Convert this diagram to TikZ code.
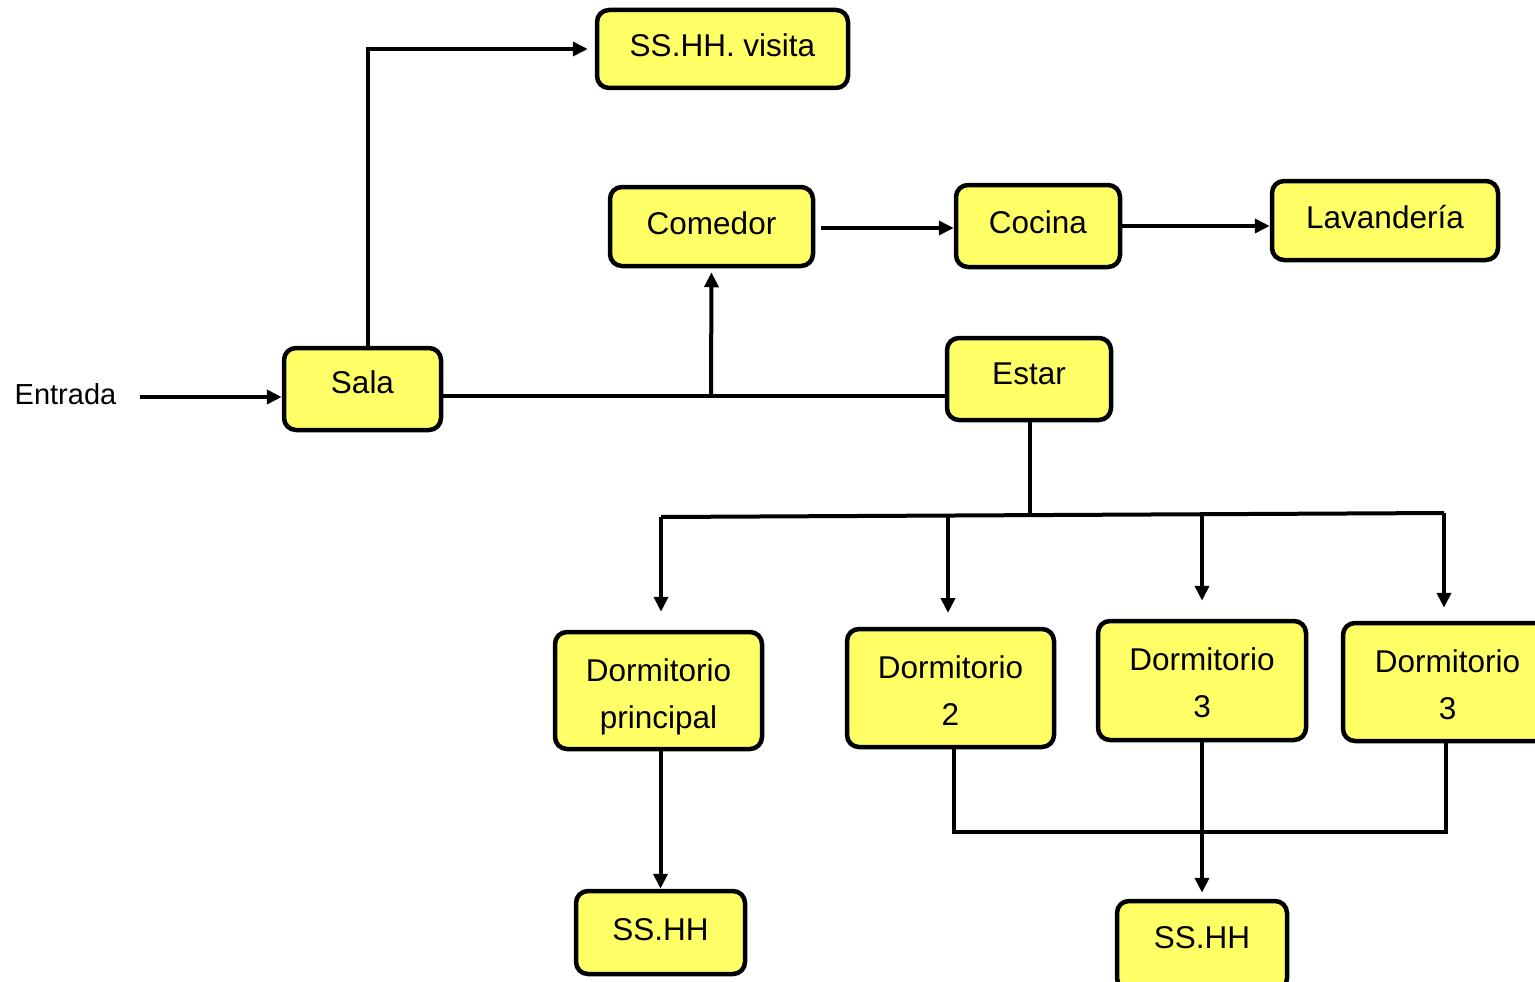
\documentclass[tikz,border=0pt]{standalone}
\usepackage{fontspec}
\setmainfont{Liberation Sans}
\usetikzlibrary{arrows.meta,shadows}
\definecolor{boxyellow}{RGB}{255,255,102}
\tikzset{
  box/.style={draw=black, line width=4.5pt, rounded corners=12pt, fill=boxyellow,
    align=center, inner sep=0pt, font=\fontsize{31.5}{47}\selectfont,
    drop shadow={shadow xshift=1.5pt, shadow yshift=-1.5pt, opacity=0.25}},
  one/.style={text height=23pt, text depth=8pt},
  conn/.style={draw=black, line width=4pt},
  arr/.style={conn, -{Triangle[length=15pt,width=14pt]}},
}
\begin{document}
\begin{tikzpicture}[x=1pt,y=-1pt]
\useasboundingbox (0,0) rectangle (1535,982);
\fill[white] (0,0) rectangle (1535,982);
% nodes
\node[box, one, minimum width=251, minimum height=78] (visita) at (722.5,49) {SS.HH. visita};
\node[box, one, minimum width=203, minimum height=79] (comedor) at (711.5,226.5) {Comedor};
\node[box, one, minimum width=164, minimum height=82] (cocina) at (1038,226) {Cocina};
\node[box, one, minimum width=226, minimum height=79] (lav) at (1385,220.5) {Lavandería};
\node[box, text height=23pt, text depth=14pt, minimum width=157, minimum height=82] (sala) at (362.5,389) {Sala};
\node[box, text height=23pt, text depth=12pt, minimum width=164, minimum height=82] (estar) at (1029,379) {Estar};
\node[box, text height=82pt, minimum width=207, minimum height=117] (dp) at (658.5,690.5) {Dormitorio\\principal};
\node[box, text height=74pt, minimum width=207, minimum height=118] (d2) at (950.5,688) {Dormitorio\\2};
\node[box, text height=74pt, minimum width=208, minimum height=119] (d3a) at (1202,680.5) {Dormitorio\\3};
\node[box, text height=75pt, minimum width=209, minimum height=118] (d3b) at (1447.5,682) {Dormitorio\\3};
\node[box, one, minimum width=169, minimum height=83] (ssl) at (660.5,932.5) {SS.HH};
\node[box, text height=23pt, text depth=18pt, minimum width=170, minimum height=89] (ssr) at (1202,945.5) {SS.HH};
\node[font=\fontsize{29}{34}\selectfont, inner sep=0pt] (entrada) at (65.5,394) {Entrada};
% connectors
\coordinate (e) at (140,397);
\draw[arr] (e) -- (sala.west |- e);
\draw[arr, shorten >=7pt] ([xshift=5pt]sala.north) |- (visita.west);
\coordinate (sl) at (441,396);
\draw[conn] (sala.east |- sl) -- (estar.west |- sl);
\coordinate (cj) at (711,396);
\draw[arr, shorten >=4pt] (cj) -- (comedor.south);
\draw[arr, shorten <=6pt] (comedor.east |- 0,228) -- (cocina.west |- 0,228);
\draw[arr] (cocina.east) -- (cocina.east -| lav.west);
\coordinate (bus) at (1030,515);
\draw[conn] (estar.south -| bus) -- (bus);
\coordinate (bl) at (661,517);
\coordinate (br) at (1444,513);
\draw[conn] (bl) -- (br);
\draw[arr, shorten >=18pt] (bl) -- (bl |- dp.north);
\draw[arr, shorten >=16pt] (948,516) -- (948,629);
\draw[arr, shorten >=18pt] (1202,514) -- (d3a.north);
\draw[arr, shorten >=13pt] (br) -- (br |- d3b.north);
\draw[arr] ([xshift=2pt]dp.south) -- ([xshift=2pt]dp.south |- ssl.north);
\draw[arr, shorten >=6pt] (d3a.south) -- (ssr.north);
\draw[conn] ([xshift=3pt]d2.south) -- ++(0,83) -| ([xshift=-2pt]d3b.south);
\end{tikzpicture}
\end{document}
